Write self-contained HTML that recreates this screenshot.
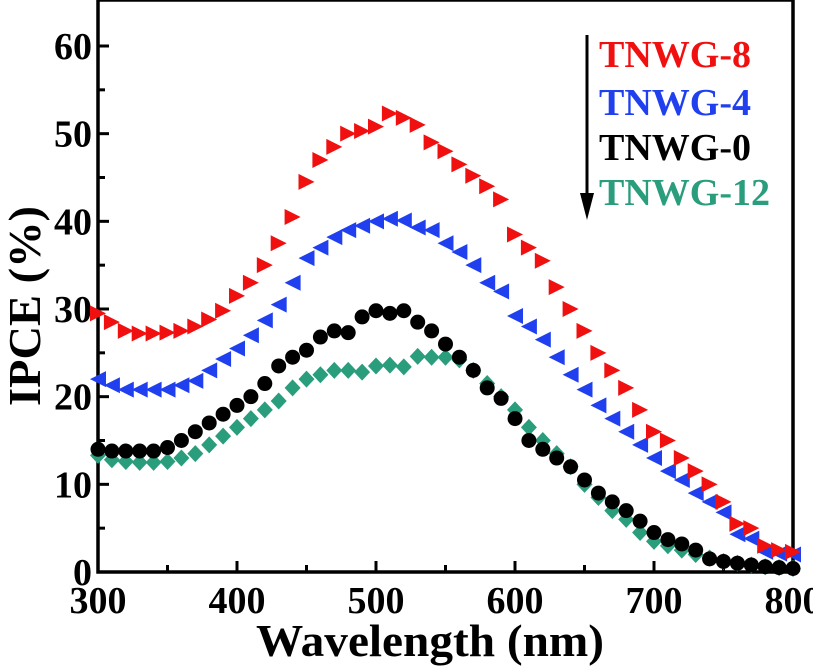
<!DOCTYPE html>
<html><head><meta charset="utf-8"><style>
body{margin:0;background:#fff}
svg{display:block;font-family:"Liberation Serif",serif;font-weight:bold}
</style></head><body>
<svg id="chart" width="813" height="668" viewBox="0 0 813 668">
<g id="frame"></g><g id="marks"></g><g id="legend"></g>
</svg>
<script>
const wavelengths=[300,310,320,330,340,350,360,370,380,390,400,410,420,430,440,450,460,470,480,490,500,510,520,530,540,550,560,570,580,590,600,610,620,630,640,650,660,670,680,690,700,710,720,730,740,750,760,770,780,790,800];
const tnwg8=[29.5,28.5,27.5,27.2,27.2,27.3,27.5,28,28.8,29.8,31.5,33,35,37.5,40.5,44.5,47,48.5,50,50.3,50.8,52.3,51.8,51,49,48,46.5,45.2,44,42.5,38.5,37,35.5,32.5,30,27.5,25,23,21,18.5,16,15,13,11.5,10,8,5.5,5,3,2.5,2.3];
const tnwg4=[22,21.3,20.8,20.8,20.8,20.8,21.3,21.8,23,24.3,25.5,27,28.7,30.5,33,35.8,37,38.2,39,39.5,40,40.3,40.1,39.3,39,37.5,36.5,35,33,32,29.2,28,26.5,24.5,22.5,20.8,19,17.5,16,14.5,13,11.5,10.5,9,8,6.8,4.3,3.8,2.3,2.1,2.0];
const tnwg0=[14,13.8,13.8,13.8,13.8,14.2,15,16,17,18,19,20,21.5,23.5,24.5,25.3,26.8,27.5,27.3,29.1,29.8,29.5,29.8,28.5,27.5,26,24.5,23,21,19.8,17.5,15,14,13,12,10.5,9,8,7,5.8,4.5,3.7,3.2,2.5,1.5,1.2,1.0,0.8,0.6,0.5,0.4];
const tnwg12=[13.3,12.8,12.6,12.5,12.5,12.6,13,13.5,14.5,15.5,16.5,17.5,18.5,19.5,21,22,22.5,23,23,22.8,23.5,23.6,23.4,24.6,24.5,24.5,24.2,23,21.5,20,18.5,16.5,15,13.5,12,10,8.5,7,6,4.5,3.5,3,2.5,2,1.6,1.2,1,0.8,0.6,0.5,0.4];
const xTicks=[300,400,500,600,700,800];
const yTicks=[0,10,20,30,40,50,60];
const legendLabels=["TNWG-8","TNWG-4","TNWG-0","TNWG-12"];

const NS="http://www.w3.org/2000/svg";
const X0=98,X1=793,Y0=572,Y1=46;
const xs=v=>X0+(v-300)/500*(X1-X0);
const ys=v=>Y0-(v/60)*(Y0-Y1);
function mk(tag,attrs,parent){const e=document.createElementNS(NS,tag);for(const k in attrs)e.setAttribute(k,attrs[k]);parent.appendChild(e);return e;}
const frame=document.getElementById('frame'),marks=document.getElementById('marks'),legend=document.getElementById('legend');

const r=mk('rect',{x:X0,y:0,width:X1-X0,height:Y0,fill:'none',stroke:'#000','stroke-width':3.5},frame);


xTicks.forEach((t,i)=>{
  const l=mk('line',{x1:xs(t),x2:xs(t),y1:Y0,y2:Y0-11,stroke:'#000','stroke-width':3},frame);
  
  
  if(i<xTicks.length-1){const m=mk('line',{x1:xs(t+50),x2:xs(t+50),y1:Y0,y2:Y0-7,stroke:'#000','stroke-width':3},frame);
  
  }
  const tx=mk('text',{x:xs(t),y:613,'text-anchor':'middle','font-size':38},frame);tx.textContent=t;
  
  
});
yTicks.forEach((t,i)=>{
  const l=mk('line',{x1:X0,x2:X0+11,y1:ys(t),y2:ys(t),stroke:'#000','stroke-width':3},frame);
  
  
  if(i<yTicks.length-1){const m=mk('line',{x1:X0,x2:X0+7,y1:ys(t+5),y2:ys(t+5),stroke:'#000','stroke-width':3},frame);
  
  }
  const tx=mk('text',{x:92,y:ys(t)+13,'text-anchor':'end','font-size':38},frame);tx.textContent=t;
  
  
});
const xt=mk('text',{x:430,y:656,'text-anchor':'middle','font-size':46,textLength:348,lengthAdjust:'spacingAndGlyphs'},frame);xt.textContent='Wavelength (nm)';


const yt=mk('text',{x:0,y:0,'text-anchor':'middle','font-size':46,textLength:200,lengthAdjust:'spacingAndGlyphs',transform:'translate(40,306) rotate(-90)'},frame);yt.textContent='IPCE (%)';



const s=8;
function marker(type,cx,cy,col){
  let e;
  if(type==='right')e=mk('polygon',{points:`${cx-s},${cy-s} ${cx+s},${cy} ${cx-s},${cy+s}`,fill:col},marks);
  else if(type==='left')e=mk('polygon',{points:`${cx+s},${cy-s} ${cx-s},${cy} ${cx+s},${cy+s}`,fill:col},marks);
  else if(type==='circle')e=mk('circle',{cx:cx,cy:cy,r:7.5,fill:col},marks);
  else e=mk('polygon',{points:`${cx},${cy-8.5} ${cx+8},${cy} ${cx},${cy+8.5} ${cx-8},${cy}`,fill:col},marks);
  return e;
}
const series=[[tnwg8,'right','#f01010','tnwg8'],[tnwg4,'left','#2040f0','tnwg4'],[tnwg0,'circle','#000','tnwg0'],[tnwg12,'diamond','#2a9d7c','tnwg12']];
series.slice().reverse().forEach(([d,type,col,nm])=>{
  d.forEach((v,i)=>{const e=marker(type,xs(wavelengths[i]),ys(v),col);
    
    });
});
const cols=['#f01010','#2040f0','#000','#2a9d7c'];
const baselines=[67,115,160,205];
legendLabels.forEach((lb,i)=>{
  const t=mk('text',{x:599,y:baselines[i],'font-size':38,fill:cols[i]},legend);t.textContent=lb;
  
  
});
const al=mk('line',{x1:587,x2:587,y1:35,y2:200,stroke:'#000','stroke-width':3},legend);


const ah=mk('polygon',{points:'580,193 594,193 587,220',fill:'#000'},legend);


</script>
</body></html>
